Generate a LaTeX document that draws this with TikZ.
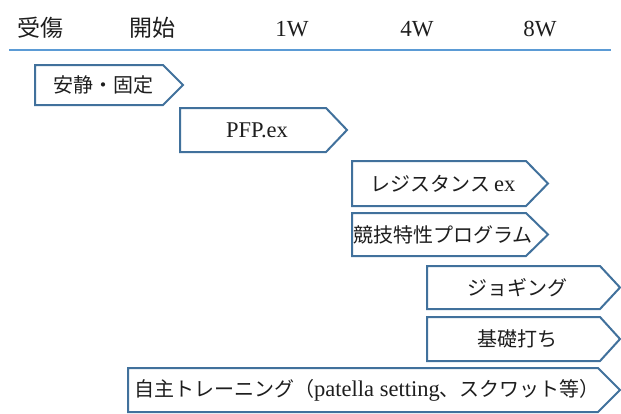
\documentclass[tikz,border=0pt]{standalone}
\usepackage{fontspec}
\setmainfont{Liberation Serif}
\newfontfamily\jp{Noto Sans CJK JP}
\definecolor{hdrline}{HTML}{5B9BD5}
\definecolor{boxedge}{HTML}{41719C}
\definecolor{txt}{HTML}{1E1E1E}
\tikzset{
  boxline/.style={draw=boxedge, line width=2pt, fill=white, line join=miter},
  boxtext/.style={inner sep=0pt, text=txt, font=\fontsize{22.5}{24}\selectfont},
  hdrtext/.style={inner sep=0pt, text=txt, font=\fontsize{23}{25}\selectfont},
}
\newcommand\jpt[1]{{\jp\fontsize{20}{22}\selectfont #1}}
\newcommand\tlbox[7]{%
  \draw[boxline] (#2,#5) -- (#3,#5) -- (#4,{(#5+#6)/2}) -- (#3,#6) -- (#2,#6) -- cycle;
  \node[boxtext] (#1) at ({(#2+#3)/2+4},{(#5+#6)/2}) {#7};
}
\begin{document}
\begin{tikzpicture}[x=1pt,y=-1pt]
\useasboundingbox (0,0) rectangle (621,413);
% header
\node[hdrtext, anchor=base] (injury) at (40,36) {\jp 受傷};
\node[hdrtext, anchor=base] (start) at (152,36) {\jp 開始};
\node[hdrtext, anchor=base] (w1) at (292,36) {1W};
\node[hdrtext, anchor=base] (w4) at (417,36) {4W};
\node[hdrtext, anchor=base] (w8) at (540,36) {8W};
\coordinate (lineL) at (9,50);
\coordinate (lineR) at (611,50);
\draw[hdrline, line width=2.5pt] (lineL) -- (lineR);
% boxes
\tlbox{rest}{35}{163}{183}{65}{105}{\jpt{安静・固定}}
\tlbox{pfp}{180}{326}{347}{108}{152}{PFP.ex}
\tlbox{resist}{352}{526}{548}{161}{206}{\jpt{レジスタンス}\,ex}
\tlbox{sport}{352}{526}{548}{213}{256}{\jpt{競技特性プログラム}}
\tlbox{jog}{427}{600}{620}{266}{309}{\jpt{ジョギング}}
\tlbox{basic}{427}{600}{620}{317}{361}{\jpt{基礎打ち}}
\tlbox{self}{128}{598}{620}{368}{412}{\jpt{自主トレーニング（}patella setting\jpt{、スクワット等）}}
\end{tikzpicture}
\end{document}
